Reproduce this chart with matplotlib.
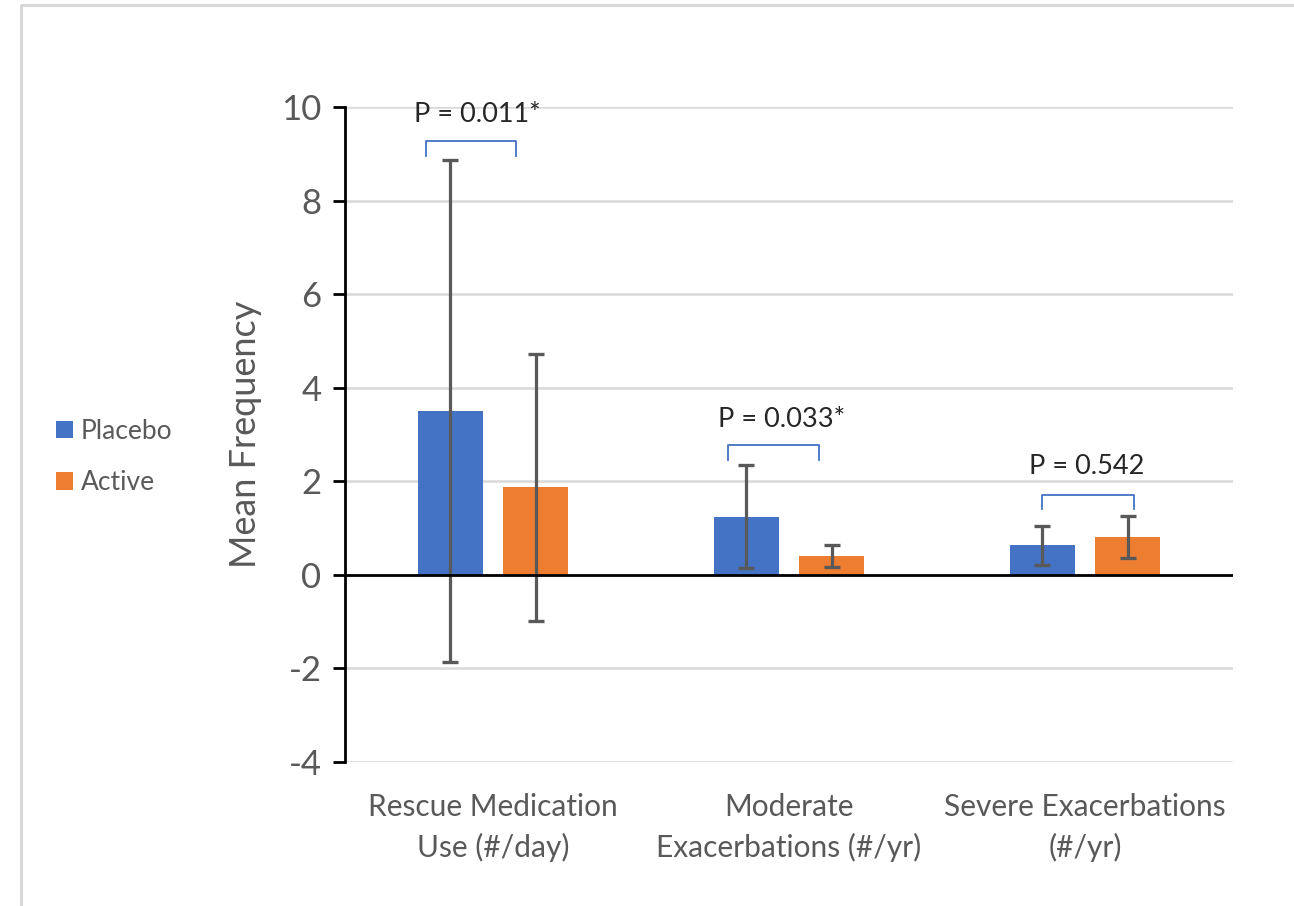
import matplotlib
matplotlib.use("Agg")
import matplotlib.pyplot as plt
from matplotlib.lines import Line2D
import numpy as np

plt.rcParams['font.family'] = ['Lato', 'DejaVu Sans']
plt.rcParams['axes.unicode_minus'] = False

categories = ['Rescue Medication\nUse (#/day)',
              'Moderate\nExacerbations (#/yr)',
              'Severe Exacerbations\n(#/yr)']
placebo = [3.50, 1.24, 0.63]
placebo_err = [5.37, 1.10, 0.41]
active = [1.87, 0.40, 0.81]
active_err = [2.86, 0.23, 0.44]

p_labels = ['P = 0.011*', 'P = 0.033*', 'P = 0.542']
# bracket spans relative to category centre, and heights (top, leg end)
br_left = [-0.226, -0.206, -0.145]
br_right = [0.078, 0.101, 0.166]
br_top = [9.28, 2.78, 1.71]
br_bot = [8.96, 2.46, 1.41]
p_x = [-0.054, -0.024, 0.007]
p_y = [9.83, 3.31, 2.31]

blue = '#4472C4'
orange = '#ED7D31'
grey_txt = '#595959'

fig = plt.figure(figsize=(12.94, 9.06), dpi=100)
ax = fig.add_axes([345/1294, 1 - 762/906, (1233-345)/1294, (762-107)/906])

x = np.arange(len(categories))
w = 0.22
off = 0.144
ax.bar(x - off, placebo, w, color=blue, label='Placebo', zorder=2)
ax.bar(x + off, active, w, color=orange, label='Active', zorder=2)
ekw = dict(fmt='none', ecolor=grey_txt, elinewidth=2.3, capsize=6, capthick=2.4, zorder=3)
ax.errorbar(x - off, placebo, yerr=placebo_err, **ekw)
ax.errorbar(x + off, active, yerr=active_err, **ekw)

ax.axhline(0, color='black', lw=2.0, zorder=4)

ax.set_xlim(-0.5, 2.5)
ax.set_ylim(-4, 10)
ax.set_yticks(range(-4, 11, 2))
ax.yaxis.grid(True, color='#d9d9d9', lw=1.8, zorder=0)
ax.set_axisbelow(True)
for s in ['top', 'right', 'bottom']:
    ax.spines[s].set_visible(False)
ax.spines['left'].set_linewidth(2.0)
ax.tick_params(axis='y', length=9, width=2.0, labelsize=25, labelcolor=grey_txt, pad=8)
ax.tick_params(axis='x', length=0, labelsize=21.5, labelcolor=grey_txt, pad=22)
ax.set_xticks(x)
ax.set_xticklabels(categories, linespacing=1.5)
ax.set_ylabel('Mean Frequency', fontsize=26, color=grey_txt, labelpad=14)

for i in range(len(categories)):
    xs = [i + br_left[i], i + br_left[i], i + br_right[i], i + br_right[i]]
    ys = [br_bot[i], br_top[i], br_top[i], br_bot[i]]
    ax.plot(xs, ys, color=blue, lw=1.3, solid_joinstyle='round', zorder=5)
    ax.text(i + p_x[i], p_y[i], p_labels[i], ha='center', va='center',
            fontsize=19.5, color='#262626', zorder=6)

fig.legend(loc='center left', bbox_to_anchor=(32/1294, 1 - 457/906), frameon=False,
           fontsize=19, handlelength=0.65, handleheight=0.65, handletextpad=0.3,
           labelspacing=1.0, labelcolor=grey_txt)

border = Line2D([21/1294, 21/1294, 1.0], [0.0, 1 - 5/906, 1 - 5/906],
                transform=fig.transFigure, color='#d9d9d9', lw=2.2)
fig.add_artist(border)

fig.savefig('out.png', dpi=100)
